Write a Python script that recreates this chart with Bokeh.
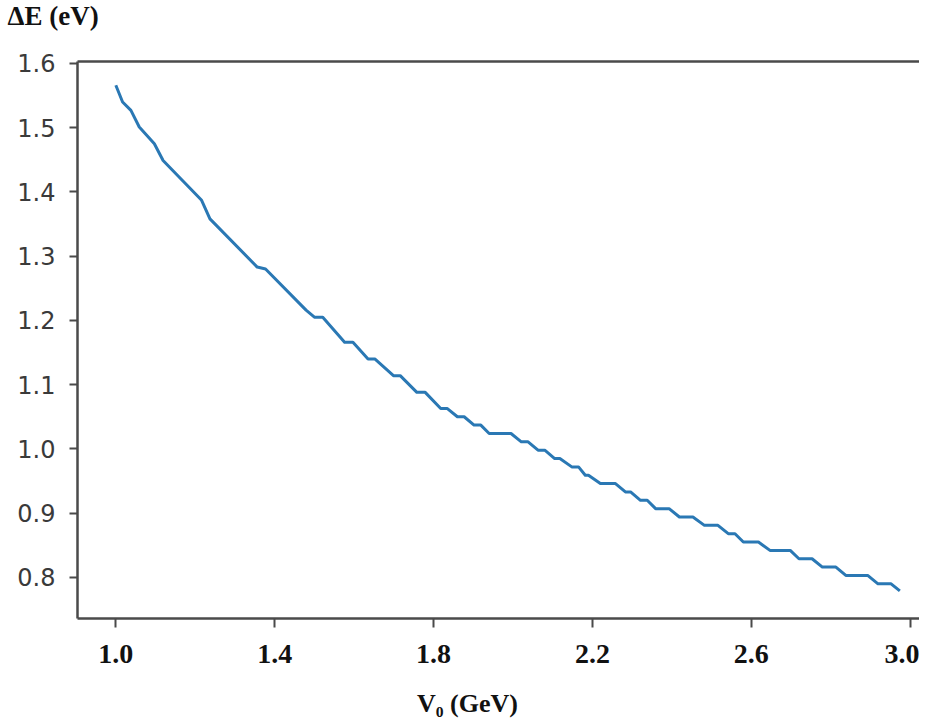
from bokeh.plotting import figure
from bokeh.layouts import column
from bokeh.models import Range1d, FixedTicker, LinearAxis, Label, Title, CustomJSTickFormatter
from bokeh.embed import file_html
from bokeh.resources import INLINE

# Values
V0 = [1.000, 1.017, 1.038, 1.059, 1.097, 1.119, 1.216, 1.237, 1.356, 1.377,
      1.479, 1.500, 1.521, 1.576, 1.597, 1.635, 1.652, 1.699, 1.716, 1.758,
      1.779, 1.818, 1.834, 1.860, 1.877, 1.902, 1.919, 1.940, 1.995, 2.021,
      2.038, 2.063, 2.080, 2.105, 2.118, 2.148, 2.165, 2.182, 2.190, 2.220,
      2.258, 2.283, 2.296, 2.321, 2.338, 2.359, 2.393, 2.419, 2.453, 2.482,
      2.516, 2.542, 2.559, 2.580, 2.618, 2.647, 2.698, 2.720, 2.753, 2.779,
      2.813, 2.838, 2.893, 2.919, 2.952, 2.974]
dE = [1.566, 1.540, 1.527, 1.501, 1.475, 1.449, 1.387, 1.358, 1.283, 1.280,
      1.216, 1.205, 1.205, 1.166, 1.166, 1.140, 1.140, 1.114, 1.114, 1.088,
      1.088, 1.063, 1.063, 1.050, 1.050, 1.037, 1.037, 1.024, 1.024, 1.011,
      1.011, 0.998, 0.998, 0.985, 0.985, 0.972, 0.972, 0.959, 0.959, 0.946,
      0.946, 0.933, 0.933, 0.920, 0.920, 0.907, 0.907, 0.894, 0.894, 0.881,
      0.881, 0.868, 0.868, 0.855, 0.855, 0.842, 0.842, 0.829, 0.829, 0.816,
      0.816, 0.803, 0.803, 0.790, 0.790, 0.779]

x_ticks = [1.0, 1.4, 1.8, 2.2, 2.6, 3.0]
y_ticks = [0.8, 0.9, 1.0, 1.1, 1.2, 1.3, 1.4, 1.5, 1.6]
x_title = "V\u2080 (GeV)"
y_title = "\u0394E (eV)"

W = 919
LEFT = 77
HEAD_H, MAIN_H, FOOT_H = 40, 640, 41


def text_strip(h):
    f = figure(width=W, height=h, output_backend="svg", toolbar_location=None,
               x_range=Range1d(LEFT, W), y_range=Range1d(0, h),
               min_border_left=LEFT, min_border_right=0, min_border_top=0,
               min_border_bottom=0, x_axis_type=None, y_axis_type=None)
    f.outline_line_color = None
    f.grid.visible = False
    f.background_fill_color = "white"
    f.border_fill_color = "white"
    return f


head = text_strip(HEAD_H)
head.add_layout(Title(text=y_title, align="left", offset=-70,
                      vertical_align="top", standoff=0,
                      text_font="Liberation Serif", text_font_style="bold",
                      text_font_size="27px", text_color="#111111"), "above")

p = figure(width=W, height=MAIN_H, output_backend="svg", toolbar_location=None,
           x_range=Range1d(0.9035, 3.0235), y_range=Range1d(0.736, 1.603),
           min_border_left=LEFT, min_border_right=0, min_border_top=21,
           min_border_bottom=62)
p.background_fill_color = "white"
p.border_fill_color = "white"
p.outline_line_color = None
p.grid.visible = False

p.line(V0, dE, line_color="#2a78b4", line_width=3, line_join="round")

axis_col = "#4a4a4a"
xa = p.xaxis[0]
xa.ticker = FixedTicker(ticks=x_ticks)
xa.formatter = CustomJSTickFormatter(code="return tick.toFixed(1);")
xa.axis_line_color = axis_col
xa.axis_line_width = 2.5
xa.major_tick_line_color = axis_col
xa.major_tick_line_width = 2
xa.major_tick_out = 9
xa.major_tick_in = 0
xa.minor_tick_line_color = None
xa.major_label_text_font = "Liberation Serif"
xa.major_label_text_font_style = "bold"
xa.major_label_text_font_size = "28px"
xa.major_label_text_color = "#111111"
xa.major_label_standoff = 17

ya = p.yaxis[0]
ya.ticker = FixedTicker(ticks=y_ticks)
ya.formatter = CustomJSTickFormatter(code="return tick.toFixed(1);")
ya.axis_line_color = axis_col
ya.axis_line_width = 2.5
ya.major_tick_line_color = axis_col
ya.major_tick_line_width = 2
ya.major_tick_out = 8
ya.major_tick_in = 0
ya.minor_tick_line_color = None
ya.major_label_text_font = "DejaVu Sans"
ya.major_label_text_font_size = "24px"
ya.major_label_text_color = "#3a3a3a"
ya.major_label_standoff = 14

top = LinearAxis(axis_line_color=axis_col, axis_line_width=2.5,
                 major_tick_line_color=None, minor_tick_line_color=None,
                 major_label_text_font_size="0px", major_label_text_color=None,
                 major_label_standoff=0)
p.add_layout(top, "above")

foot = text_strip(FOOT_H)
foot.add_layout(Label(x=467, y=FOOT_H - 23, text=x_title, text_align="center",
                      text_baseline="middle", text_font="Liberation Serif",
                      text_font_style="bold", text_font_size="26px",
                      text_color="#111111"))

layout = column(head, p, foot, spacing=0)
open("out.html", "w").write(file_html(layout, INLINE))
